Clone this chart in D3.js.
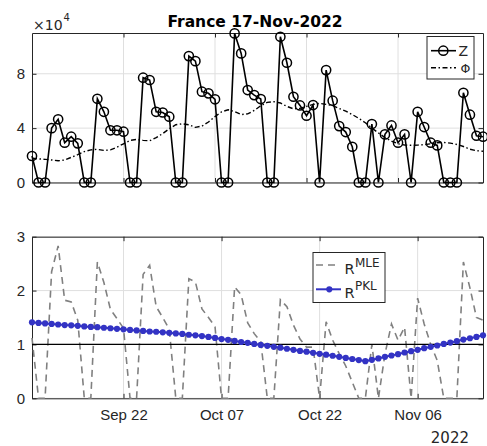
<!DOCTYPE html>
<meta charset="utf-8">
<script src="https://d3js.org/d3.v7.min.js"></script>
<style>
body { margin: 0; background: white; }
svg { font-family: "DejaVu Sans", sans-serif; }
.tick text { fill: #262626; font-size: 15px; }
.axis path, .axis line { stroke: #262626; }
</style>
<div id="chart"></div>
<script>
// daily reported cases
var zCases = [19500, 0, 0, 40000, 46500, 29300, 33700, 28800, 0, 0,
  61600, 52000, 38400, 38400, 37400, 0, 0, 77100, 75400, 52000,
  51500, 48400, 0, 0, 93000, 89300, 66800, 65600, 61200, 0,
  0, 109700, 95000, 68000, 64300, 61400, 0, 0, 107200, 88100,
  63100, 56700, 49100, 57000, 0, 82700, 60200, 41500, 37100, 26300,
  0, 0, 43000, 0, 35400, 42000, 29300, 35400, 0, 52000,
  40800, 29300, 27300, 0, 0, 0, 66000, 49900, 34400, 33700];
var phi = [17800, 17400, 17000, 16600, 16000, 16500, 18500, 20500, 22700, 24000,
  24400, 23600, 24000, 26000, 28500, 31000, 31700, 31000, 30700, 33000,
  36000, 39500, 42500, 43200, 42500, 40600, 41500, 44500, 48500, 52000,
  53500, 52200, 50000, 50500, 53000, 56500, 59000, 59500, 58500, 56000,
  54200, 54500, 56000, 57500, 58200, 57500, 56500, 54500, 52500, 50000,
  47200, 44000, 40000, 36500, 33000, 30500, 28500, 27600, 27400, 27500,
  27800, 28500, 29300, 29500, 29000, 28000, 26500, 24500, 23400, 23000];
var rMLE = [1.12, 0, 0, 2.35, 2.83, 1.82, 1.79, 1.45, 0, 0,
  2.53, 2.15, 1.65, 1.48, 1.30, 0, 0, 2.30, 2.47, 1.70,
  1.50, 1.28, 0, 0, 2.22, 2.16, 1.66, 1.50, 1.33, 0,
  0, 2.07, 1.92, 1.40, 1.20, 1.05, 0, 0, 1.83, 1.70,
  1.36, 1.10, 0.95, 0.95, 0, 1.42, 1.08, 0.83, 0.60, 0.30,
  0, 0, 1.00, 0, 0.82, 1.38, 1.08, 1.32, 0, 1.86,
  1.38, 1.00, 0.70, 0, 0, 0, 2.53, 2.05, 1.50, 1.45];
var rPKL = [1.41, 1.40, 1.39, 1.38, 1.37, 1.36, 1.355, 1.345, 1.335, 1.325,
  1.32, 1.31, 1.30, 1.29, 1.28, 1.27, 1.26, 1.25, 1.24, 1.235,
  1.225, 1.215, 1.205, 1.195, 1.18, 1.17, 1.155, 1.14, 1.12, 1.10,
  1.085, 1.065, 1.045, 1.03, 1.01, 0.99, 0.975, 0.955, 0.94, 0.92,
  0.90, 0.88, 0.865, 0.845, 0.825, 0.81, 0.79, 0.77, 0.75, 0.73,
  0.71, 0.69, 0.715, 0.74, 0.77, 0.795, 0.82, 0.85, 0.875, 0.90,
  0.93, 0.955, 0.98, 1.01, 1.035, 1.06, 1.09, 1.115, 1.14, 1.17];

var startDay = new Date(2022, 8, 8);
var days = d3.timeDay.range(startDay, d3.timeDay.offset(startDay, zCases.length));
var topGridDays = [new Date(2022, 8, 22), new Date(2022, 9, 6), new Date(2022, 9, 20), new Date(2022, 10, 3)];
var bottomTickDays = [new Date(2022, 8, 22), new Date(2022, 9, 7), new Date(2022, 9, 22), new Date(2022, 10, 6)];
var zTicks = [0, 40000, 80000];
var rTicks = [0, 1, 2, 3];

var left = 32, right = 483;
var top1 = 33, bot1 = 182.5, top2 = 236.7, bot2 = 398.3;
var gridColor = "#dfdfdf", tickLen = 4.5;
var dashDot = "5,2.5,1.5,2.5";

var svg = d3.select("#chart").append("svg").attr("width", 487).attr("height", 446);

var x = d3.scaleTime().domain([days[0], days[days.length - 1]]).range([left, right]);
var y1 = d3.scaleLinear().domain([0, 110000]).range([bot1, top1]);
var y2 = d3.scaleLinear().domain([0, 3]).range([bot2, top2]);

function drawFrame(xTicks, y, yTicks, yFmt, yTop, yBot, showX) {
  var g = svg.append("g");
  g.selectAll(".vg").data(xTicks).enter().append("line")
    .attr("x1", function(d) { return x(d); }).attr("x2", function(d) { return x(d); })
    .attr("y1", yTop).attr("y2", yBot).attr("stroke", gridColor);
  g.selectAll(".hg").data(yTicks).enter().append("line")
    .attr("x1", left).attr("x2", right)
    .attr("y1", function(d) { return y(d); }).attr("y2", function(d) { return y(d); })
    .attr("stroke", gridColor);

  var bx = d3.axisBottom(x).tickValues(xTicks).tickSizeInner(-tickLen).tickSizeOuter(0).tickPadding(11)
    .tickFormat(showX ? d3.timeFormat("%b %d") : function() { return ""; });
  g.append("g").attr("class", "axis").attr("transform", "translate(0," + yBot + ")").call(bx);
  g.append("g").attr("class", "axis").attr("transform", "translate(0," + yTop + ")")
    .call(d3.axisTop(x).tickValues(xTicks).tickSizeInner(-tickLen).tickSizeOuter(0).tickFormat(""));
  g.append("g").attr("class", "axis").attr("transform", "translate(" + left + ",0)")
    .call(d3.axisLeft(y).tickValues(yTicks).tickSizeInner(-tickLen).tickSizeOuter(0).tickPadding(7).tickFormat(yFmt));
  g.append("g").attr("class", "axis").attr("transform", "translate(" + right + ",0)")
    .call(d3.axisRight(y).tickValues(yTicks).tickSizeInner(-tickLen).tickSizeOuter(0).tickFormat(""));
  g.selectAll(".domain").attr("stroke", "#262626");
  return g;
}

// top panel
drawFrame(topGridDays, y1, zTicks, function(d) { return d / 10000; }, top1, bot1, false);

svg.append("path").datum(phi)
  .attr("fill", "none").attr("stroke", "black").attr("stroke-width", 1.4)
  .attr("stroke-dasharray", dashDot)
  .attr("d", d3.line().x(function(d, i) { return x(days[i]); }).y(function(d) { return y1(d); }));

svg.append("path").datum(zCases)
  .attr("fill", "none").attr("stroke", "black").attr("stroke-width", 1.6)
  .attr("d", d3.line().x(function(d, i) { return x(days[i]); }).y(function(d) { return y1(d); }));
svg.append("g").selectAll("circle").data(zCases).enter().append("circle")
  .attr("cx", function(d, i) { return x(days[i]); })
  .attr("cy", function(d) { return y1(d); })
  .attr("r", 4.6).attr("fill", "none").attr("stroke", "black").attr("stroke-width", 1.5);

svg.append("text").attr("x", 255).attr("y", 26.5).attr("text-anchor", "middle")
  .style("font-weight", "bold").style("font-size", "15.5px").attr("fill", "black")
  .text("France 17-Nov-2022");
svg.append("text").attr("x", 33).attr("y", 29.5).style("font-size", "14px").attr("fill", "#262626").text("\u00d710");
svg.append("text").attr("x", 63.5).attr("y", 20.5).style("font-size", "10px").attr("fill", "#262626").text("4");

// top legend
var lg1 = svg.append("g");
lg1.append("rect").attr("x", 427).attr("y", 36.5).attr("width", 47).attr("height", 42.5)
  .attr("fill", "white").attr("stroke", "#262626").attr("stroke-width", 1);
lg1.append("line").attr("x1", 431).attr("x2", 456).attr("y1", 50.7).attr("y2", 50.7)
  .attr("stroke", "black").attr("stroke-width", 1.6);
lg1.append("circle").attr("cx", 443.3).attr("cy", 50.7).attr("r", 4.6)
  .attr("fill", "none").attr("stroke", "black").attr("stroke-width", 1.5);
lg1.append("text").attr("x", 458.5).attr("y", 56).style("font-size", "14px").attr("fill", "#262626").text("Z");
lg1.append("line").attr("x1", 431).attr("x2", 456).attr("y1", 67.7).attr("y2", 67.7)
  .attr("stroke", "black").attr("stroke-width", 1.4).attr("stroke-dasharray", dashDot);
lg1.append("text").attr("x", 460.5).attr("y", 72.7).style("font-size", "12.5px").attr("fill", "#262626").text("\u03a6");

// bottom panel
drawFrame(bottomTickDays, y2, rTicks, d3.format("d"), top2, bot2, true);

svg.append("path").datum(rMLE)
  .attr("fill", "none").attr("stroke", "#808080").attr("stroke-width", 1.6)
  .attr("stroke-dasharray", "7,5")
  .attr("d", d3.line().x(function(d, i) { return x(days[i]); }).y(function(d) { return y2(d); }));

svg.append("line").attr("x1", left).attr("x2", right).attr("y1", y2(1)).attr("y2", y2(1))
  .attr("stroke", "black").attr("stroke-width", 1.2);

svg.append("path").datum(rPKL)
  .attr("fill", "none").attr("stroke", "#3333c4").attr("stroke-width", 2)
  .attr("d", d3.line().x(function(d, i) { return x(days[i]); }).y(function(d) { return y2(d); }));
svg.append("g").selectAll("circle").data(rPKL).enter().append("circle")
  .attr("cx", function(d, i) { return x(days[i]); })
  .attr("cy", function(d) { return y2(d); })
  .attr("r", 3.1).attr("fill", "#3333c4");

svg.append("text").attr("x", 469).attr("y", 442.5).attr("text-anchor", "end")
  .style("font-size", "15px").attr("fill", "#262626").text("2022");

// bottom legend
var lg2 = svg.append("g");
lg2.append("rect").attr("x", 313).attr("y", 252.5).attr("width", 72).attr("height", 50)
  .attr("fill", "white").attr("stroke", "#262626").attr("stroke-width", 1);
lg2.append("line").attr("x1", 316).attr("x2", 340).attr("y1", 265).attr("y2", 265)
  .attr("stroke", "#808080").attr("stroke-width", 1.6).attr("stroke-dasharray", "7,5");
lg2.append("text").attr("x", 344.5).attr("y", 273.5).style("font-size", "14.5px").attr("fill", "#262626").text("R");
lg2.append("text").attr("x", 355).attr("y", 266.5).style("font-size", "12px").attr("fill", "#262626").text("MLE");
lg2.append("line").attr("x1", 316).attr("x2", 341).attr("y1", 289.3).attr("y2", 289.3)
  .attr("stroke", "#3333c4").attr("stroke-width", 2);
lg2.append("circle").attr("cx", 329.3).attr("cy", 289.3).attr("r", 3.1).attr("fill", "#3333c4");
lg2.append("text").attr("x", 344.5).attr("y", 297.5).style("font-size", "14.5px").attr("fill", "#262626").text("R");
lg2.append("text").attr("x", 355).attr("y", 290).style("font-size", "12px").attr("fill", "#262626").text("PKL");
</script>
